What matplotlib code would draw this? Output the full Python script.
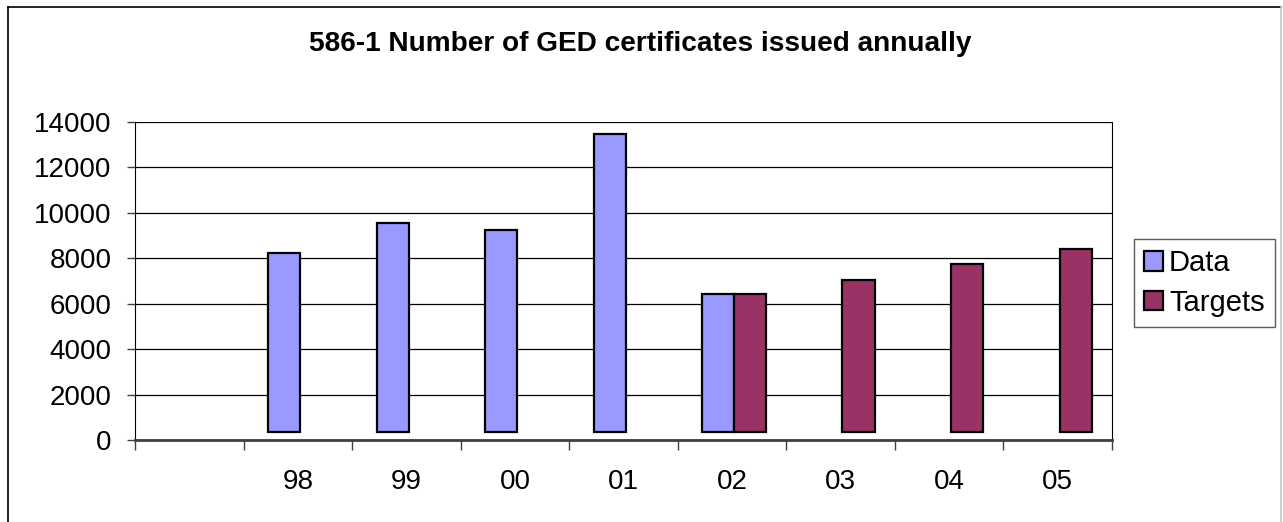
import matplotlib.pyplot as plt
import numpy as np
from matplotlib.lines import Line2D

plt.rcParams['font.family'] = ['Liberation Sans', 'DejaVu Sans']

#====================DATA====================

categories = ["", "98", "99", "00", "01", "02", "03", "04", "05"]
data_vals = [np.nan, 8235, 9530, 9230, 13440, 6420, np.nan, np.nan, np.nan]
target_vals = [np.nan, np.nan, np.nan, np.nan, np.nan, 6420, 7035, 7725, 8385]
yticks = [0, 2000, 4000, 6000, 8000, 10000, 12000, 14000]

#====================PLOT====================

fig = plt.figure(figsize=(12.83, 5.22), dpi=100)
ax = fig.add_axes([0.1052, 0.1571, 0.7615, 0.6098])

x = np.arange(len(categories))
width = 0.295
base = 365  # bars sit slightly above the floor, as in the original

data_h = np.array(data_vals) - base
target_h = np.array(target_vals) - base
ax.bar(x - 0.125, data_h, width, bottom=base, color="#9999FF",
       edgecolor="black", linewidth=1.6, label="Data", zorder=3)
ax.bar(x + 0.165, target_h, width, bottom=base, color="#993366",
       edgecolor="black", linewidth=1.6, label="Targets", zorder=3)

ax.set_xlim(-0.5, len(categories) - 0.5)
ax.set_ylim(0, 14000)
ax.set_yticks(yticks)
ax.set_yticklabels([str(v) for v in yticks], fontsize=20)
ax.yaxis.grid(True, color="black", linewidth=0.9, zorder=0)

ax.set_xticks(x)
ax.set_xticklabels(categories, fontsize=20)
ax.set_xticks(np.arange(-0.5, len(categories)), minor=True)
ax.tick_params(axis="x", which="major", length=0, pad=21)
ax.tick_params(axis="x", which="minor", length=7, width=1, color="#404040",
               direction="out")
ax.tick_params(axis="y", length=6, width=1, color="#404040", pad=11)

ax.spines["top"].set_visible(False)
ax.spines["left"].set_color("black")
ax.spines["right"].set_color("black")
ax.spines["bottom"].set_color("#404040")
ax.spines["bottom"].set_linewidth(2)

fig.text(0.499, 1 - 44 / 522, "586-1 Number of GED certificates issued annually",
         ha="center", va="center", fontsize=20.2, fontweight="bold")

leg = fig.legend(loc="upper left", bbox_to_anchor=(1134 / 1283, 1 - 239 / 522),
                 fontsize=21, frameon=True, fancybox=False, edgecolor="#333333",
                 handlelength=0.65, handleheight=0.65, handletextpad=0.2,
                 labelspacing=0.4, borderpad=0.35, borderaxespad=0)
leg.get_frame().set_linewidth(1.0)

# outer chart border
fig.add_artist(Line2D([8 / 1283, 8 / 1283], [0, 1 - 7 / 522],
                      transform=fig.transFigure, color="black", linewidth=1.2))
fig.add_artist(Line2D([8 / 1283, 1281 / 1283], [1 - 7 / 522, 1 - 7 / 522],
                      transform=fig.transFigure, color="black", linewidth=1.2))
fig.add_artist(Line2D([1281 / 1283, 1281 / 1283], [0, 1 - 7 / 522],
                      transform=fig.transFigure, color="#c8c8c8", linewidth=1.2))

plt.savefig("out.png", dpi=100)
